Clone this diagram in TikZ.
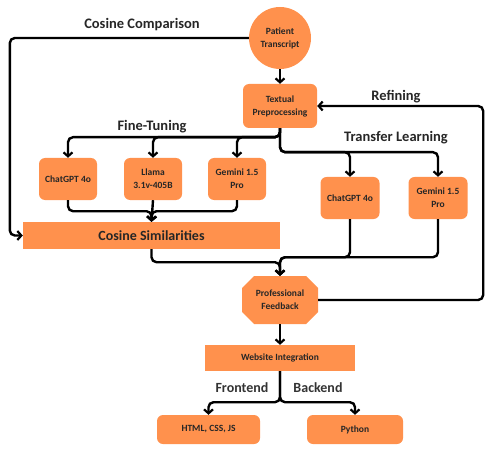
\documentclass[tikz,border=0pt]{standalone}
\usepackage{fontspec}
\setmainfont{Carlito}
\usetikzlibrary{arrows.meta,shapes.geometric}
\definecolor{org}{HTML}{FF914D}
\begin{document}
\begin{tikzpicture}[x=1pt,y=-1pt,
  base/.style={fill=org, align=center, inner sep=0pt, font=\bfseries\fontsize{9.5}{13}\selectfont, text=black!85},
  rbox/.style={base, rounded corners=6pt},
  sbox/.style={base},
  conn/.style={draw=black, line width=2.4pt, rounded corners=5pt, -{Straight Barb[length=4pt,width=9pt,line width=2.2pt]}},
  lab/.style={font=\bfseries\fontsize{14.5}{16}\selectfont, text=black!85},
  lab2/.style={font=\bfseries\fontsize{14}{16}\selectfont, text=black!80}]
\useasboundingbox (0,0) rectangle (492,457);
% nodes
\node[base, circle, minimum size=62pt] (pt) at (280,38) {Patient\\Transcript};
\node[rbox, minimum width=74pt, minimum height=44pt] (tp) at (280,106) {Textual\\Preprocessing};
\node[rbox, minimum width=58pt, minimum height=42pt] (c1) at (68,179) {ChatGPT 4o};
\node[rbox, minimum width=58pt, minimum height=42pt] (ll) at (153,179) {Llama\\3.1v-405B};
\node[rbox, minimum width=58pt, minimum height=42pt] (g1) at (237,179) {Gemini 1.5\\Pro};
\node[rbox, minimum width=59pt, minimum height=42pt] (c2) at (350,198) {ChatGPT 4o};
\node[rbox, minimum width=59pt, minimum height=42pt] (g2) at (438,198) {Gemini 1.5\\Pro};
\node[sbox, minimum width=257pt, minimum height=27pt, font=\bfseries\fontsize{14}{16}\selectfont] (cs) at (151.5,235.5) {Cosine Similarities};
\coordinate (pfc) at (280,300);
\fill[org] (pfc) ++(-26,-24) -- ++(52,0) -- ++(12,12) -- ++(0,24) -- ++(-12,12) -- ++(-52,0) -- ++(-12,-12) -- ++(0,-24) -- cycle;
\node[base, fill=none, minimum width=76pt, minimum height=48pt] (pf) at (pfc) {Professional\\Feedback};
\node[sbox, minimum width=150pt, minimum height=26pt] (wi) at (280,358) {Website Integration};
\node[rbox, minimum width=103pt, minimum height=29pt] (html) at (208.5,429.5) {HTML, CSS, JS};
\node[rbox, minimum width=96pt, minimum height=29pt] (py) at (355,429.5) {Python};
% labels
\node[lab] (l1) at (142,25) {Cosine Comparison};
\node[lab] (l2) at (396,97) {Refining};
\node[lab] (l3) at (152,127) {Fine-Tuning};
\node[lab] (l4) at (396,138) {Transfer Learning};
\node[lab2] (l5) at (242,388) {Frontend};
\node[lab2] (l6) at (318,388) {Backend};
% connectors
\draw[conn] (pt) -- (tp);
\draw[conn] (pt.west) -| ([xshift=-13pt]cs.west) -- (cs.west);
\draw[conn] (pf.east) -| ([xshift=166pt]tp.east) -- (tp.east);
\draw[conn] (tp.south) -- ++(0,9) -| (c1.north);
\draw[conn] (tp.south) -- ++(0,9) -| (ll.north);
\draw[conn] (tp.south) -- ++(0,9) -| (g1.north);
\draw[conn] (tp.south) -- ++(0,24) -| (c2.north);
\draw[conn] (tp.south) -- ++(0,24) -| (g2.north);
\draw[conn] (c1.south) -- ++(0,11) -| (cs.north);
\draw[conn] (ll.south) -- (cs.north);
\draw[conn] (g1.south) -- ++(0,11) -| (cs.north);
\draw[conn] (c2.south) -- ++(0,38) -| (pf.north);
\draw[conn] (g2.south) -- ++(0,38) -| (pf.north);
\draw[conn] (cs.south) -- ++(0,13) -| (pf.north);
\draw[conn] (pf) -- (wi);
\draw[conn] (wi.south) -- ++(0,31) -| (html.north);
\draw[conn] (wi.south) -- ++(0,31) -| (py.north);
\end{tikzpicture}
\end{document}
